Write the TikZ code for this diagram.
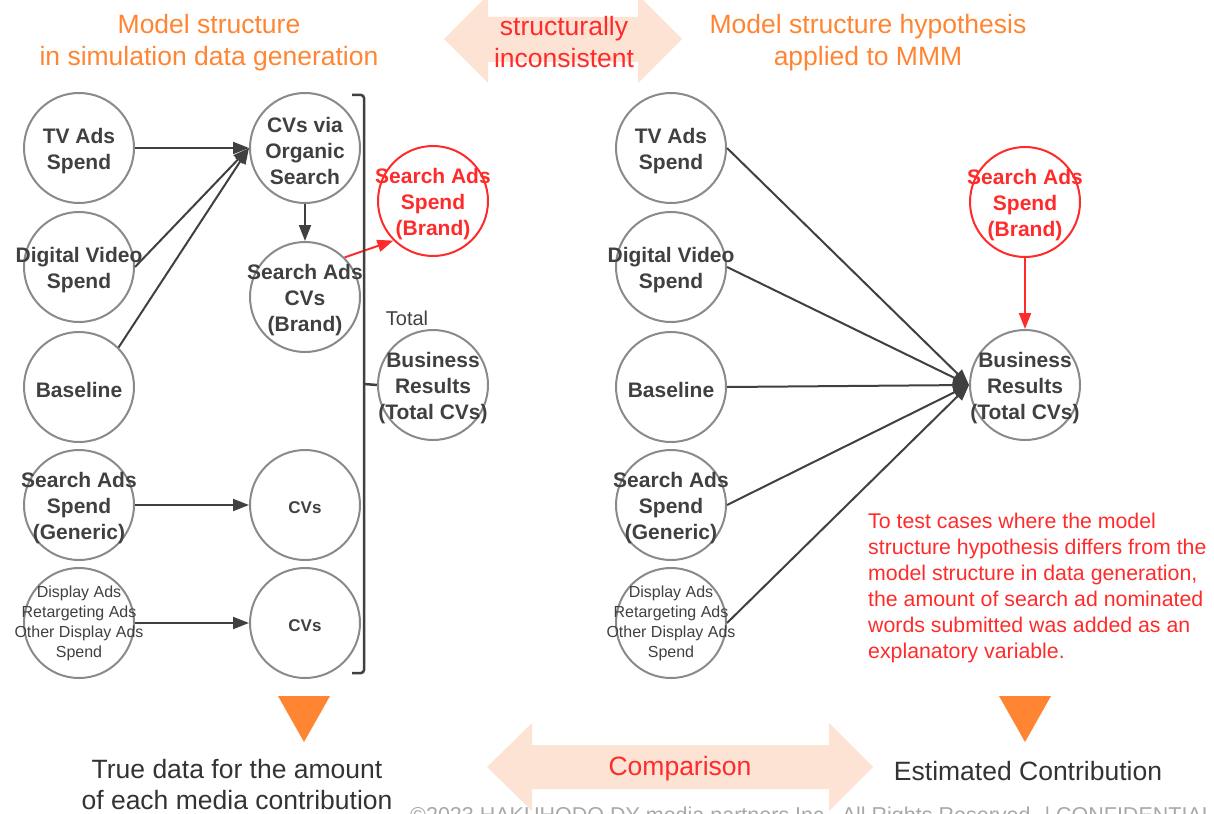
\documentclass[tikz,border=0pt]{standalone}
\usepackage{fontspec}
\setmainfont{Liberation Sans}
\usetikzlibrary{arrows.meta}

\definecolor{inkgray}{HTML}{404040}
\definecolor{ringgray}{HTML}{8A8A8A}
\definecolor{alertred}{HTML}{FF2B2B}
\definecolor{titleorange}{HTML}{FF8533}
\definecolor{peach}{HTML}{FDE3D4}
\definecolor{footgray}{HTML}{A8A8A8}
\definecolor{plaintext}{HTML}{333333}

\begin{document}
\begin{tikzpicture}[
x=1pt,y=-1pt,
ring/.style={circle,draw=ringgray,line width=2pt,minimum size=110pt,inner sep=0pt},
bubble/.style={ring,label={[bubbletext]center:#1}},
smallbubble/.style={ring,label={[smalltext]center:#1}},
redbubble/.style={ring,draw=alertred,label={[bubbletext,text=alertred]center:#1}},
bubbletext/.style={align=center,yshift=-3pt,text=inkgray,font=\bfseries\fontsize{21}{26}\selectfont},
smalltext/.style={align=center,text=inkgray,font=\fontsize{16}{20}\selectfont},
title/.style={align=center,text=titleorange,font=\fontsize{26.5}{32}\selectfont},
caption/.style={align=center,text=plaintext,font=\fontsize{26.5}{31}\selectfont},
flow/.style={draw=inkgray,line width=2pt,-{Triangle[length=16pt,width=12pt]}},
redflow/.style={draw=alertred,line width=2pt,-{Triangle[length=16pt,width=12pt]}}]
\useasboundingbox (0,0) rectangle (1214,813);
\clip (0,0) rectangle (1214,813);

% double arrows behind the headings
\fill[peach] (444,39) -- (488,-5) -- (488,17) -- (638,17) -- (638,-5) -- (682,39)
  -- (638,83) -- (638,62) -- (488,62) -- (488,83) -- cycle;
\fill[peach] (487,767) -- (532,723) -- (532,745) -- (829,745) -- (829,723) -- (873,767)
  -- (829,811) -- (829,789) -- (532,789) -- (532,811) -- cycle;

\node[title] (lefthead) at (209,43) {Model structure\\in simulation data generation};
\node[title] (righthead) at (868,43) {Model structure hypothesis\\applied to MMM};
\node[title,text=alertred] (clash) at (564,42) {structurally\\inconsistent};

% data generation side
\node[bubble={TV Ads\\Spend}] (tv1) at (79,148) {};
\node[bubble={Digital Video\\Spend}] (dv1) at (79,267) {};
\node[bubble={Baseline}] (base1) at (79,387) {};
\node[bubble={Search Ads\\Spend\\(Generic)}] (gen1) at (79,505) {};
\node[smallbubble={Display Ads\\Retargeting Ads\\Other Display Ads\\Spend}] (disp1) at (79,623) {};
\node[bubble={CVs via\\Organic\\Search}] (org) at (305,148) {};
\node[bubble={Search Ads\\CVs\\(Brand)}] (sab) at (305,297) {};
\node[ring,label={[bubbletext,font=\bfseries\fontsize{17}{20}\selectfont]center:CVs}] (cv1) at (305,505) {};
\node[ring,label={[bubbletext,font=\bfseries\fontsize{17}{20}\selectfont]center:CVs}] (cv2) at (305,623) {};
\node[redbubble={Search Ads\\Spend\\(Brand)}] (red1) at (433,201) {};
\node[bubble={Business\\Results\\(Total CVs)}] (br1) at (433,385) {};
\node[text=inkgray,font=\fontsize{20}{24}\selectfont] (total) at (407,318) {Total};

\draw[flow] (tv1) -- (org);
\draw[flow] (dv1.east) -- (org.west);
\draw[flow] (base1.north east) -- (org.west);
\draw[flow] (org) -- (sab);
\draw[redflow] (sab.north east) -- (red1.south west);
\draw[flow] (gen1) -- (cv1);
\draw[flow] (disp1) -- (cv2);

% bracket summing into total
\draw[inkgray,line width=2.5pt,rounded corners=3pt] (352,95) -- (364,95) -- (364,673) -- (352,673);
\draw[inkgray,line width=2.5pt] (364,384) -- (br1.west);

% MMM side
\node[bubble={TV Ads\\Spend}] (tv2) at (671,148) {};
\node[bubble={Digital Video\\Spend}] (dv2) at (671,267) {};
\node[bubble={Baseline}] (base2) at (671,387) {};
\node[bubble={Search Ads\\Spend\\(Generic)}] (gen2) at (671,505) {};
\node[smallbubble={Display Ads\\Retargeting Ads\\Other Display Ads\\Spend}] (disp2) at (671,623) {};
\node[redbubble={Search Ads\\Spend\\(Brand)}] (red2) at (1025,202) {};
\node[bubble={Business\\Results\\(Total CVs)}] (br2) at (1025,385) {};

\foreach \src in {tv2,dv2,base2,gen2,disp2}
  \draw[flow] (\src.east) -- (br2.west);
\draw[redflow] (red2) -- (br2);

\node[anchor=north west,inner sep=0pt,align=left,text=alertred,font=\fontsize{21.3}{26}\selectfont] (note) at (868,513)
  {To test cases where the model\\structure hypothesis differs from the\\model structure in data generation,\\the amount of search ad nominated\\words submitted was added as an\\explanatory variable.};

% results
\fill[titleorange] (278,696) -- (330,696) -- (304,742) -- cycle;
\fill[titleorange] (999,696) -- (1051,696) -- (1025,742) -- cycle;
\node[caption] (truth) at (237,785) {True data for the amount\\of each media contribution};
\node[caption] (estimate) at (1028,771) {Estimated Contribution};
\node[title,text=alertred] (compare) at (680,769) {Comparison};
\node[anchor=base west,inner sep=0pt,text=footgray,font=\fontsize{21.5}{24}\selectfont] (foot) at (410,822)
  {©2023 HAKUHODO DY media partners Inc., All Rights Reserved. | CONFIDENTIAL};
\end{tikzpicture}
\end{document}
